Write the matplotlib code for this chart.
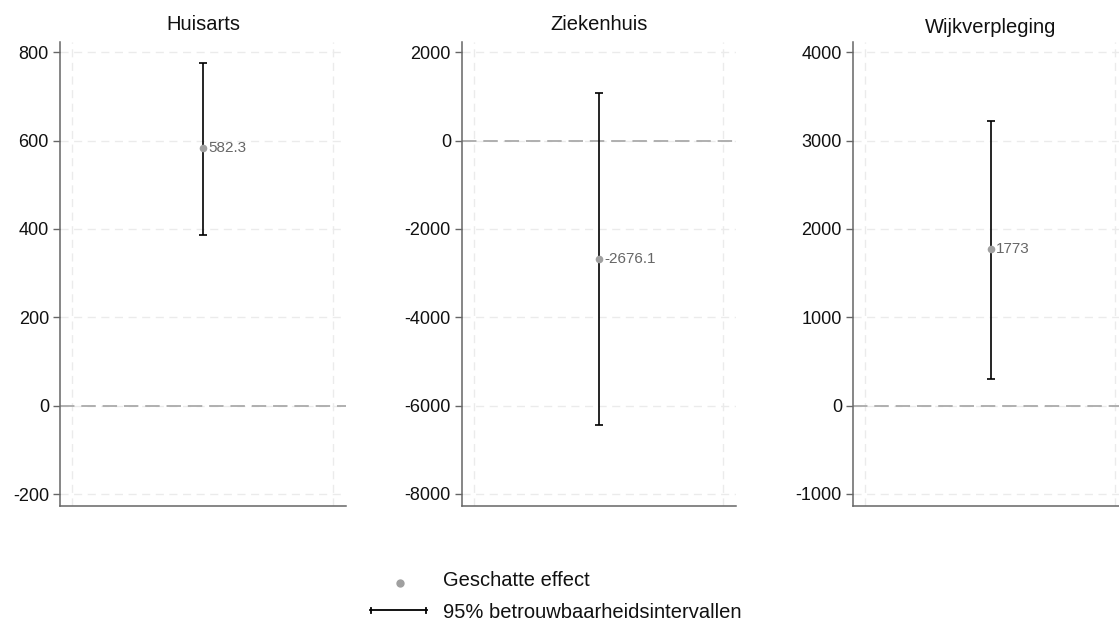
import matplotlib
matplotlib.use("Agg")
import matplotlib.pyplot as plt
from matplotlib.lines import Line2D

plt.rcParams['font.family'] = ['Liberation Sans', 'DejaVu Sans']

# Data
titles = ["Huisarts", "Ziekenhuis", "Wijkverpleging"]
estimates = [582.3, -2676.1, 1773]
lower = [386, -6445, 302]
upper = [775, 1085, 3226]
labels = ["582.3", "-2676.1", "1773"]
yticks = [[-200, 0, 200, 400, 600, 800],
          [-8000, -6000, -4000, -2000, 0, 2000],
          [-1000, 0, 1000, 2000, 3000, 4000]]
ylims = [(-227, 823), (-8272, 2233), (-1136, 4117)]

W, H = 1119, 625
fig = plt.figure(figsize=(W / 100, H / 100), dpi=100)

# axes boxes in pixels: left, right
boxes = [(60, 346), (462, 736), (853, 1128)]
top_px, bot_px = 42, 506
title_pads = [8.6, 8.6, 6.5]

axis_col = "#666666"
for i, (l, r) in enumerate(boxes):
    ax = fig.add_axes([l / W, 1 - bot_px / H, (r - l) / W, (bot_px - top_px) / H])
    ax.set_xlim(0, 1)
    ax.set_ylim(*ylims[i])
    ax.set_yticks(yticks[i])
    ax.set_yticklabels([str(v) for v in yticks[i]])
    ax.set_xticks([12 / (r - l), 1 - 13 / (r - l)])
    ax.tick_params(axis='x', length=0, labelbottom=False)
    ax.tick_params(axis='y', length=5, width=1, color=axis_col, pad=3,
                   labelsize=13, labelcolor="#111111")
    for s in ["top", "right"]:
        ax.spines[s].set_visible(False)
    for s in ["left", "bottom"]:
        ax.spines[s].set_color(axis_col)
        ax.spines[s].set_linewidth(1.1)
    ax.grid(True, color="#ebebeb", linewidth=1.0, linestyle=(0, (5.8, 4.0)))
    ax.set_axisbelow(True)
    # zero reference line
    ax.axhline(0, color="#aaaaaa", linewidth=1.3, linestyle=(0, (8.0, 3.8)), zorder=1.5)
    # error bar
    ax.errorbar([0.5], [estimates[i]],
                yerr=[[estimates[i] - lower[i]], [upper[i] - estimates[i]]],
                fmt='none', ecolor="black", elinewidth=1.2, capsize=3.0,
                capthick=1.2, zorder=3)
    ax.plot([0.5], [estimates[i]], 'o', color="#a0a0a0", markersize=5.5,
            markeredgewidth=0, zorder=4)
    ax.annotate(labels[i], (0.5, estimates[i]), xytext=(4, 0),
                textcoords='offset points', va='center', ha='left',
                fontsize=11, color="#666666", zorder=5)
    ax.set_title(titles[i], fontsize=14.5, color="#111111", pad=title_pads[i])

# Legend (figure coordinates)
fig.add_artist(Line2D([400 / W], [1 - 583 / H], marker='o', color="#a0a0a0",
                      markersize=6, markeredgewidth=0, linestyle='none',
                      transform=fig.transFigure))
fig.text(443 / W, 1 - 580 / H, "Geschatte effect", fontsize=14.5,
         va='center', ha='left', color="#111111")
fig.add_artist(Line2D([370 / W, 427 / W], [1 - 610 / H, 1 - 610 / H],
                      color="black", linewidth=1.3, transform=fig.transFigure))
for xp in (371, 426):
    fig.add_artist(Line2D([xp / W, xp / W], [1 - 607.5 / H, 1 - 612.5 / H],
                          color="black", linewidth=1.3, transform=fig.transFigure))
fig.text(443 / W, 1 - 612 / H, "95% betrouwbaarheidsintervallen", fontsize=14.5,
         va='center', ha='left', color="#111111")

fig.savefig("out.png", dpi=100)
